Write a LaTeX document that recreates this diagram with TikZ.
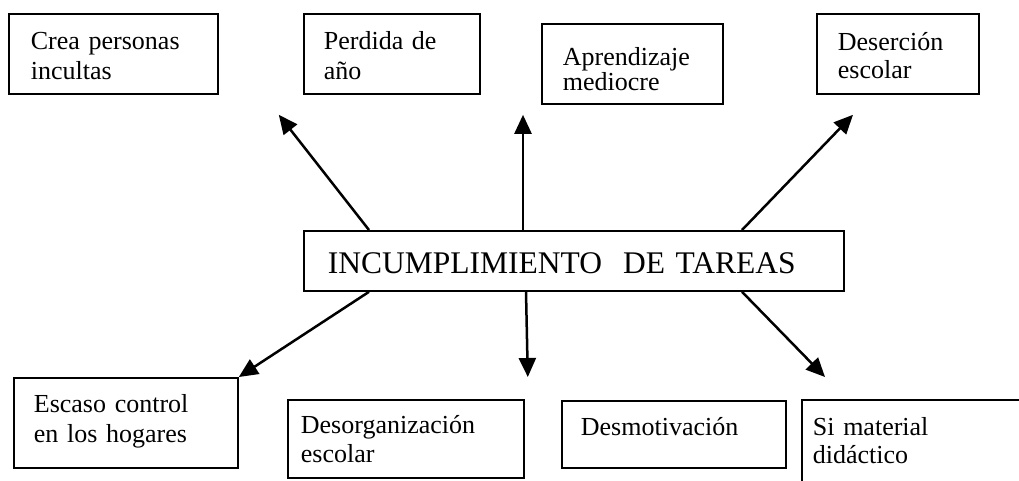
\documentclass[tikz,border=0pt]{standalone}
\usepackage{fontspec}
\setmainfont{Liberation Serif}
\usetikzlibrary{arrows.meta,calc}
\newcommand\myTop[1]{\rule{0pt}{#1pt}}
\newcommand\myBot[1]{\rule[-#1pt]{0pt}{#1pt}}
\begin{document}
\begin{tikzpicture}[x=1pt,y=-1pt,
  box/.style={draw,line width=1.8pt,rectangle,anchor=north west,align=left,inner ysep=0pt},
  fs/.style={font=\fontsize{26}{#1}\selectfont},
  big/.style={font=\fontsize{31.5}{36}\selectfont},
  arr/.style={line width=2.5pt,-{Triangle[length=19pt,width=17pt]}}]
\clip (0,0) rectangle (1019,480);
\fill[white] (0,0) rectangle (1019,480);
% top boxes
\node[box,fs=30,inner xsep=22pt,text width=165pt] (crea) at (8,13) {\myTop{36}Crea personas\\incultas\myBot{14}};
\node[box,fs=30,inner xsep=20pt,text width=136pt] (perd) at (303,13) {\myTop{36}Perdida de\\año\myBot{14}};
\node[box,fs=25,inner xsep=21pt,text width=139pt] (aprend) at (541,23) {\myTop{42}Aprendizaje\\mediocre\myBot{13}};
\node[box,fs=28,inner xsep=21pt,text width=120pt] (deserc) at (816,13) {\myTop{37}Deserción\\escolar\myBot{15}};
% central
\node[box,big,inner xsep=24pt,text width=492pt] (c) at (303,230) {\myTop{43}INCUMPLIMIENTO~~DE TAREAS\myBot{17}};
% bottom boxes
\node[box,fs=30,inner xsep=20pt,text width=184pt] (escaso) at (13,377) {\myTop{35}Escaso control\\en los hogares\myBot{25}};
\node[box,fs=29,inner xsep=13pt,text width=210pt] (desorg) at (287,399) {\myTop{34}Desorganización\\escolar\myBot{15}};
\node[box,fs=30,inner xsep=19pt,text width=186pt] (desmot) at (561,400) {\myTop{35}Desmotivación\myBot{32}};
\node[box,fs=28,inner xsep=11pt,text width=217pt] (simat) at (801,399) {\myTop{36}Si material\\didáctico\myBot{22}};
% arrow ends
\coordinate (e1) at ($(crea.south east)+(60,20)$);
\coordinate (e2) at ($(aprend.south west)+(-18,10)$);
\coordinate (e3) at ($(deserc.south west)+(37,20)$);
\coordinate (e5) at ($(desorg.north east)+(3,-22)$);
\coordinate (e6) at ($(simat.north west)+(24,-22)$);
% arrows
\draw[arr] ($(c.north west)+(66,0)$) -- (e1);
\draw[arr] ($(c.north west)+(220,0)$) -- (e2);
\draw[arr] ($(c.north west)+(439,0)$) -- (e3);
\draw[arr] ($(c.south west)+(66,0)$) -- (escaso.north east);
\draw[arr] ($(c.south west)+(223,0)$) -- (e5);
\draw[arr] ($(c.south west)+(439,0)$) -- (e6);
\end{tikzpicture}
\end{document}
